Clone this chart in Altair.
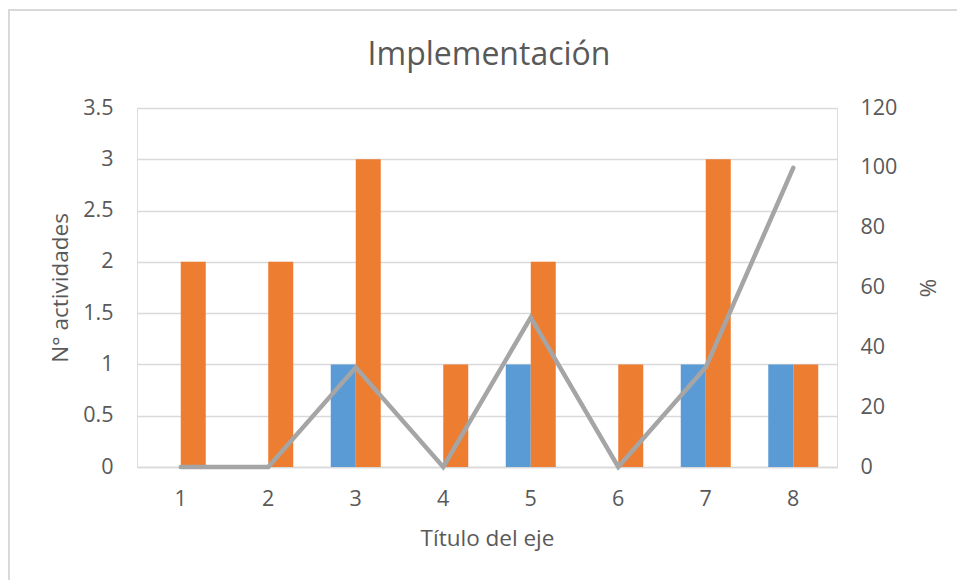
import altair as alt
import pandas as pd

# Categories along the horizontal axis
categorias = ["1", "2", "3", "4", "5", "6", "7", "8"]

# Number of activities per category (two bar series)
serie_1 = [0, 0, 1, 0, 1, 0, 1, 1]
serie_2 = [2, 2, 3, 1, 2, 1, 3, 1]

# Percentage line (right axis)
porcentaje = [0, 0, 33.33, 0, 50, 0, 33.33, 100]

series = ["Serie 1", "Serie 2"]
colores = ["#5B9BD5", "#ED7D31"]

titulo = "Implementación"

barras_df = pd.DataFrame(
    [{"cat": c, "serie": series[0], "valor": v} for c, v in zip(categorias, serie_1)]
    + [{"cat": c, "serie": series[1], "valor": v} for c, v in zip(categorias, serie_2)]
)
linea_df = pd.DataFrame({"cat": categorias, "pct": porcentaje})

FONT = "Open Sans"
TEXT = "#595959"
GRID = "#D9D9D9"
LABEL_SIZE = 21.5
TITLE_SIZE = 22.5

pad_inner = 1 - 50 / 87.5

x_enc = alt.X(
    "cat:O",
    sort=categorias,
    scale=alt.Scale(paddingInner=pad_inner, paddingOuter=pad_inner / 2),
    axis=alt.Axis(
        title="Título del eje",
        labelAngle=0,
        ticks=False,
        domainColor=GRID,
        domainWidth=1.5,
        labelPadding=21,
        titlePadding=18,
        labelFontSize=LABEL_SIZE,
        titleFontSize=TITLE_SIZE,
        labelColor=TEXT,
        titleColor=TEXT,
        labelFont=FONT,
        titleFont=FONT,
        titleFontWeight="normal",
    ),
)

barras = (
    alt.Chart(barras_df)
    .mark_bar()
    .encode(
        x=x_enc,
        xOffset=alt.XOffset("serie:N", sort=series, scale=alt.Scale(paddingInner=0, paddingOuter=0)),
        y=alt.Y(
            "valor:Q",
            scale=alt.Scale(domain=[0, 3.5], nice=False),
            axis=alt.Axis(
                title="N° actividades",
                values=[0, 0.5, 1, 1.5, 2, 2.5, 3, 3.5],
                format="~g",
                ticks=False,
                domain=False,
                gridColor=GRID,
                gridWidth=1.5,
                labelPadding=24,
                titlePadding=10,
                labelFontSize=LABEL_SIZE,
                titleFontSize=TITLE_SIZE,
                labelColor=TEXT,
                titleColor=TEXT,
                labelFont=FONT,
                titleFont=FONT,
                titleFontWeight="normal",
            ),
        ),
        color=alt.Color("serie:N", scale=alt.Scale(domain=series, range=colores), legend=None),
    )
)

linea = (
    alt.Chart(linea_df)
    .mark_line(color="#A5A5A5", strokeWidth=4.5, strokeCap="round")
    .encode(
        x=alt.X("cat:O", sort=categorias),
        y=alt.Y(
            "pct:Q",
            scale=alt.Scale(domain=[0, 120], nice=False),
            axis=alt.Axis(
                orient="right",
                title="%",
                values=[0, 20, 40, 60, 80, 100, 120],
                ticks=False,
                domain=False,
                grid=False,
                labelPadding=23,
                titlePadding=18,
                labelFontSize=LABEL_SIZE,
                titleFontSize=TITLE_SIZE,
                labelColor=TEXT,
                titleColor=TEXT,
                labelFont=FONT,
                titleFont=FONT,
                titleFontWeight="normal",
            ),
        ),
    )
)

# Light frame around the whole chart
marco = (
    alt.Chart(pd.DataFrame({"k": [0]}))
    .mark_rect(filled=False, stroke=GRID, strokeWidth=2)
    .encode(
        x=alt.value(-128),
        x2=alt.value(900),
        y=alt.value(-98),
        y2=alt.value(600),
    )
)

# Chart heading, drawn as a text mark centred over the plot area
encabezado = (
    alt.Chart(pd.DataFrame({"t": [titulo]}))
    .mark_text(
        font=FONT,
        fontSize=32,
        color=TEXT,
        align="center",
        baseline="alphabetic",
    )
    .encode(text="t:N", x=alt.value(352), y=alt.value(-43))
)

chart = (
    alt.layer(marco, barras, linea, encabezado)
    .resolve_scale(y="independent")
    .properties(
        width=700,
        height=359,
        autosize=alt.AutoSizeParams(type="none"),
        padding={"left": 137, "top": 108, "right": 120, "bottom": 113},
    )
    .configure_view(stroke=None)
    .configure(background="white")
)

chart.save("out.html", embed_options={"renderer": "svg", "actions": False})
